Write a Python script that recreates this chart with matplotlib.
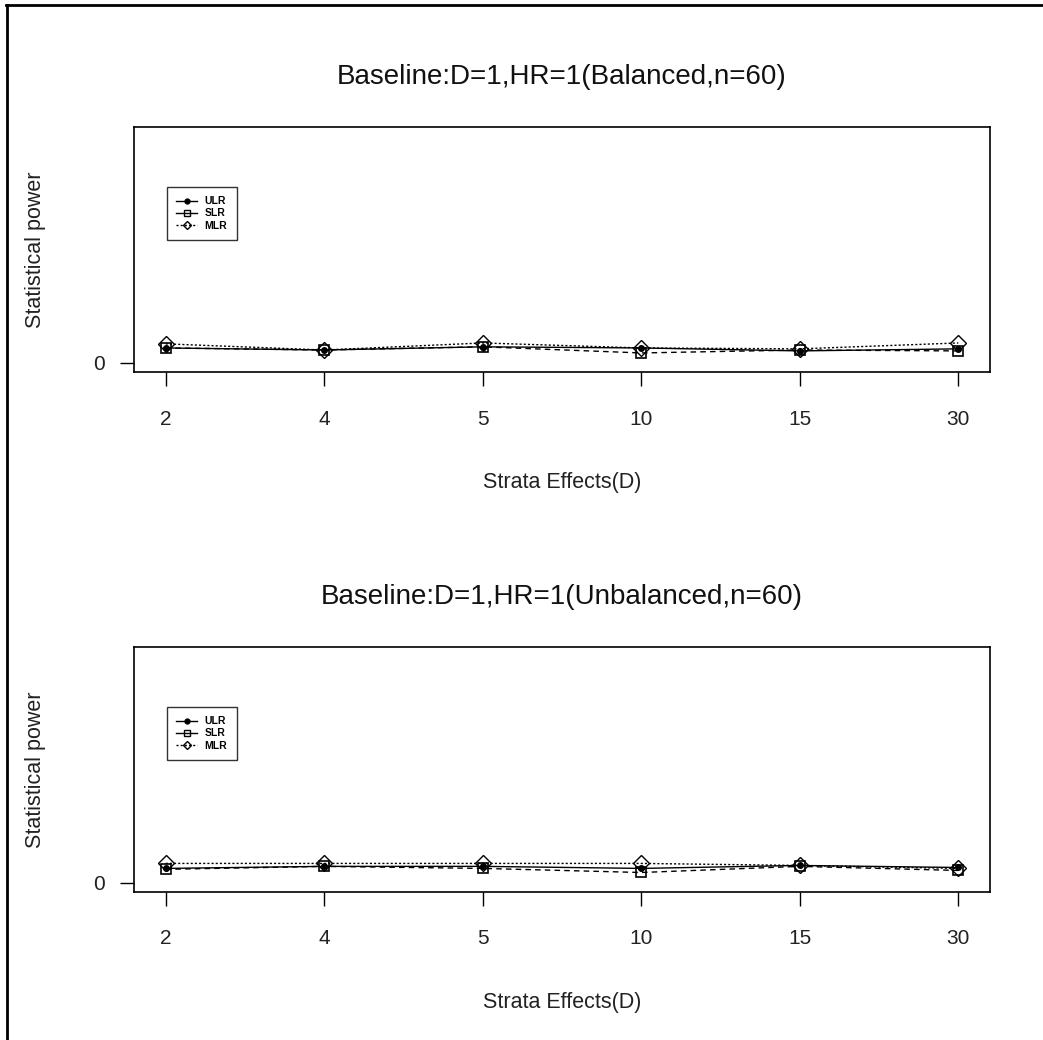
import matplotlib
matplotlib.use("Agg")
import matplotlib.pyplot as plt
from matplotlib.lines import Line2D

plt.rcParams['font.family'] = ['Liberation Sans', 'DejaVu Sans']

strata = ["2", "4", "5", "10", "15", "30"]
titles = ["Baseline:D=1,HR=1(Balanced,n=60)", "Baseline:D=1,HR=1(Unbalanced,n=60)"]

ulr_bal = [0.066, 0.057, 0.071, 0.066, 0.053, 0.062]
slr_bal = [0.066, 0.057, 0.071, 0.044, 0.057, 0.053]
mlr_bal = [0.084, 0.057, 0.088, 0.066, 0.062, 0.088]

ulr_unb = [0.064, 0.073, 0.073, 0.064, 0.077, 0.068]
slr_unb = [0.060, 0.073, 0.064, 0.046, 0.073, 0.055]
mlr_unb = [0.086, 0.086, 0.086, 0.086, 0.077, 0.064]

W, H = 1043, 1040
fig = plt.figure(figsize=(W / 100, H / 100), dpi=100)

def add_ax(left, right, top, bottom):
    return fig.add_axes([left / W, 1 - bottom / H, (right - left) / W, (bottom - top) / H])

panels = [
    (add_ax(134, 990, 127, 372), titles[0], ulr_bal, slr_bal, mlr_bal),
    (add_ax(134, 990, 647, 892), titles[1], ulr_unb, slr_unb, mlr_unb),
]

x = list(range(1, len(strata) + 1))
for ax, title, u, s, m in panels:
    ax.plot(x, m, linestyle=(0, (1.5, 1.5)), color='black', lw=1.0,
            marker='D', markersize=8, markerfacecolor='none', markeredgecolor='black', markeredgewidth=1.0)
    ax.plot(x, s, linestyle=(0, (4, 3)), color='black', lw=1.0,
            marker='s', markersize=7, markerfacecolor='none', markeredgecolor='black', markeredgewidth=1.2)
    ax.plot(x, u, linestyle='-', color='black', lw=1.0,
            marker='o', markersize=4, markerfacecolor='black', markeredgecolor='black')
    ax.set_xlim(0.8, 6.2)
    ax.set_ylim(-0.04, 1.04)
    ax.set_xticks(x)
    ax.set_xticklabels(strata, fontsize=15)
    ax.set_yticks([0])
    ax.set_yticklabels(["0"], fontsize=15)
    ax.tick_params(axis='x', direction='out', length=10, width=1, pad=17, colors='black')
    ax.tick_params(axis='y', direction='out', length=10, width=1, pad=11, colors='black')
    for lab in ax.get_xticklabels() + ax.get_yticklabels():
        lab.set_color('#222222')
    for sp in ax.spines.values():
        sp.set_linewidth(1.2)
    ax.set_title(title, fontsize=20, pad=31, color='#111111')
    ax.set_xlabel("Strata Effects(D)", fontsize=15.5, labelpad=31, color='#222222')
    ax.set_ylabel("Statistical power", fontsize=15.5, labelpad=34, color='#222222')
    handles = [
        Line2D([], [], color='black', lw=1, marker='o', markersize=3.5),
        Line2D([], [], color='black', lw=1, marker='s', markersize=4.5, markerfacecolor='none'),
        Line2D([], [], color='black', lw=1, linestyle=(0, (1.5, 1.5)), marker='D', markersize=4.5, markerfacecolor='none'),
    ]
    leg = ax.legend(handles, ["ULR", "SLR", "MLR"], loc='upper left',
                    bbox_to_anchor=(0.0386, 0.755), frameon=True,
                    fancybox=False, edgecolor='black', handlelength=2.0,
                    borderpad=0.9, labelspacing=0.2, handletextpad=0.7, borderaxespad=0,
                    prop={'weight': 'bold', 'size': 7.5})
    leg.get_frame().set_linewidth(1.0)

# outer border lines (left and top)
fig.add_artist(Line2D([7 / W, 7 / W], [0, 1 - 5 / H], color='black', lw=2, transform=fig.transFigure))
fig.add_artist(Line2D([6 / W, 1], [1 - 5 / H, 1 - 5 / H], color='black', lw=2, transform=fig.transFigure))

fig.savefig("out.png", dpi=100)
